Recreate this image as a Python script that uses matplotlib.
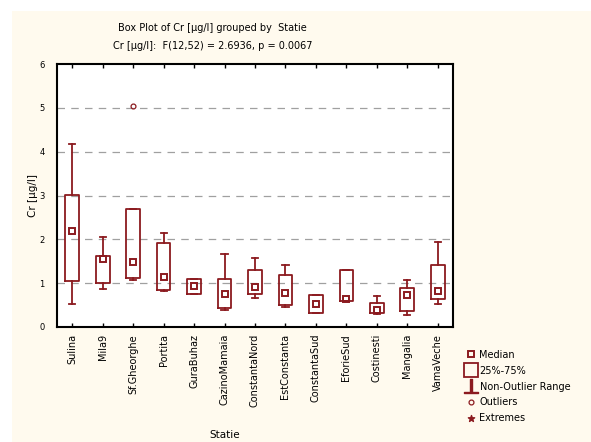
import matplotlib
matplotlib.use("Agg")
import matplotlib.pyplot as plt
from matplotlib.patches import Rectangle
from matplotlib.lines import Line2D

stations = ["Sulina", "Mila9", "Sf.Gheorghe", "Portita", "GuraBuhaz", "CazinoMamaia",
            "ConstantaNord", "EstConstanta", "ConstantaSud", "EforieSud", "Costinesti",
            "Mangalia", "VamaVeche"]
q1 =      [1.06, 1.00, 1.11, 0.84, 0.75, 0.43, 0.75, 0.50, 0.31, 0.60, 0.31, 0.37, 0.65]
q3 =      [3.01, 1.63, 2.69, 1.91, 1.09, 1.10, 1.29, 1.18, 0.72, 1.29, 0.54, 0.88, 1.42]
medians = [2.18, 1.55, 1.48, 1.14, 0.94, 0.76, 0.91, 0.78, 0.52, 0.63, 0.39, 0.73, 0.83]
wlo =     [0.52, 0.86, 1.08, 0.82, 0.75, 0.39, 0.66, 0.45, 0.31, 0.60, 0.29, 0.27, 0.52]
whi =     [4.17, 2.06, 2.69, 2.15, 1.09, 1.67, 1.57, 1.42, 0.72, 1.29, 0.71, 1.07, 1.95]
outliers = {"Sf.Gheorghe": [5.05]}

title1 = "Box Plot of Cr [\u00b5g/l] grouped by  Statie"
title2 = "Cr [\u00b5g/l]:  F(12,52) = 2.6936, p = 0.0067"

red = "#8b1a1f"
cream = "#fffaee"

plt.rcParams['font.family'] = ['DejaVu Sans']

fig = plt.figure(figsize=(5.91, 4.42), dpi=100)
fig.patches.append(Rectangle((12/591, 0), 1, 1 - 11/442, transform=fig.transFigure,
                             facecolor=cream, edgecolor='none', zorder=-10))

ax = fig.add_axes([57/591, 1 - 327/442, 396/591, 263/442])
ax.set_facecolor('white')

stats = []
for i, name in enumerate(stations):
    stats.append(dict(label=name, med=medians[i], q1=q1[i], q3=q3[i],
                      whislo=wlo[i], whishi=whi[i], fliers=outliers.get(name, [])))

pos = list(range(len(stations)))
ax.bxp(stats, positions=pos, widths=0.45, patch_artist=False,
       boxprops=dict(color=red, lw=1.3),
       whiskerprops=dict(color=red, lw=1.3),
       capprops=dict(color=red, lw=1.3),
       medianprops=dict(visible=False),
       flierprops=dict(marker='o', ms=3.5, mfc='none', mec=red, mew=0.9),
       capwidths=0.2)
ax.plot(pos, medians, 's', ms=4.5, mfc='none', mec=red, mew=1.4, ls='none')

ax.set_xlim(-0.5, len(stations) - 0.5)
ax.set_ylim(0, 6)
ax.set_yticks(range(0, 7))
for v in range(1, 6):
    ax.axhline(v, color='#a0a0a0', lw=0.9, ls=(0, (6, 5)), zorder=0)

ax.set_xticks(pos)
ax.set_xticklabels(stations, rotation=90, fontsize=7)
ax.tick_params(axis='x', direction='in', top=True, length=3, width=1, pad=5)
ax.tick_params(axis='y', length=0, labelsize=6, pad=9)
for s in ax.spines.values():
    s.set_linewidth(1.5)

ax.set_ylabel("Cr [\u00b5g/l]", fontsize=7.5)
ax.yaxis.set_label_coords(-0.048, 0.5)
ax.set_xlabel("Statie", fontsize=7.5)
ax.xaxis.set_label_coords(0.424, -0.39)

fig.text(212/591, 1 - 28/442, title1, ha='center', va='center', fontsize=7)
fig.text(213/591, 1 - 46/442, title2, ha='center', va='center', fontsize=7)

# legend
handles = [
    Line2D([], [], marker='s', ms=4.5, mfc='none', mec=red, mew=1.4, ls='none'),
    Line2D([], [], marker='s', ms=10, mfc='none', mec=red, mew=1.3, ls='none'),
    Line2D([], [], marker='$\u22a5$', ms=10, color=red, ls='none'),
    Line2D([], [], marker='o', ms=3.5, mfc='none', mec=red, mew=0.9, ls='none'),
    Line2D([], [], marker='$\u2605$', ms=4.5, color=red, ls='none'),
]
labels = ["Median", "25%-75%", "Non-Outlier Range", "Outliers", "Extremes"]
fig.legend(handles, labels, loc='upper left', bbox_to_anchor=(462/591, 1 - 346/442),
           frameon=False, fontsize=7, handlelength=1, handletextpad=0.4,
           labelspacing=0.6, borderaxespad=0)

fig.savefig("out.png", dpi=100, facecolor='white')
